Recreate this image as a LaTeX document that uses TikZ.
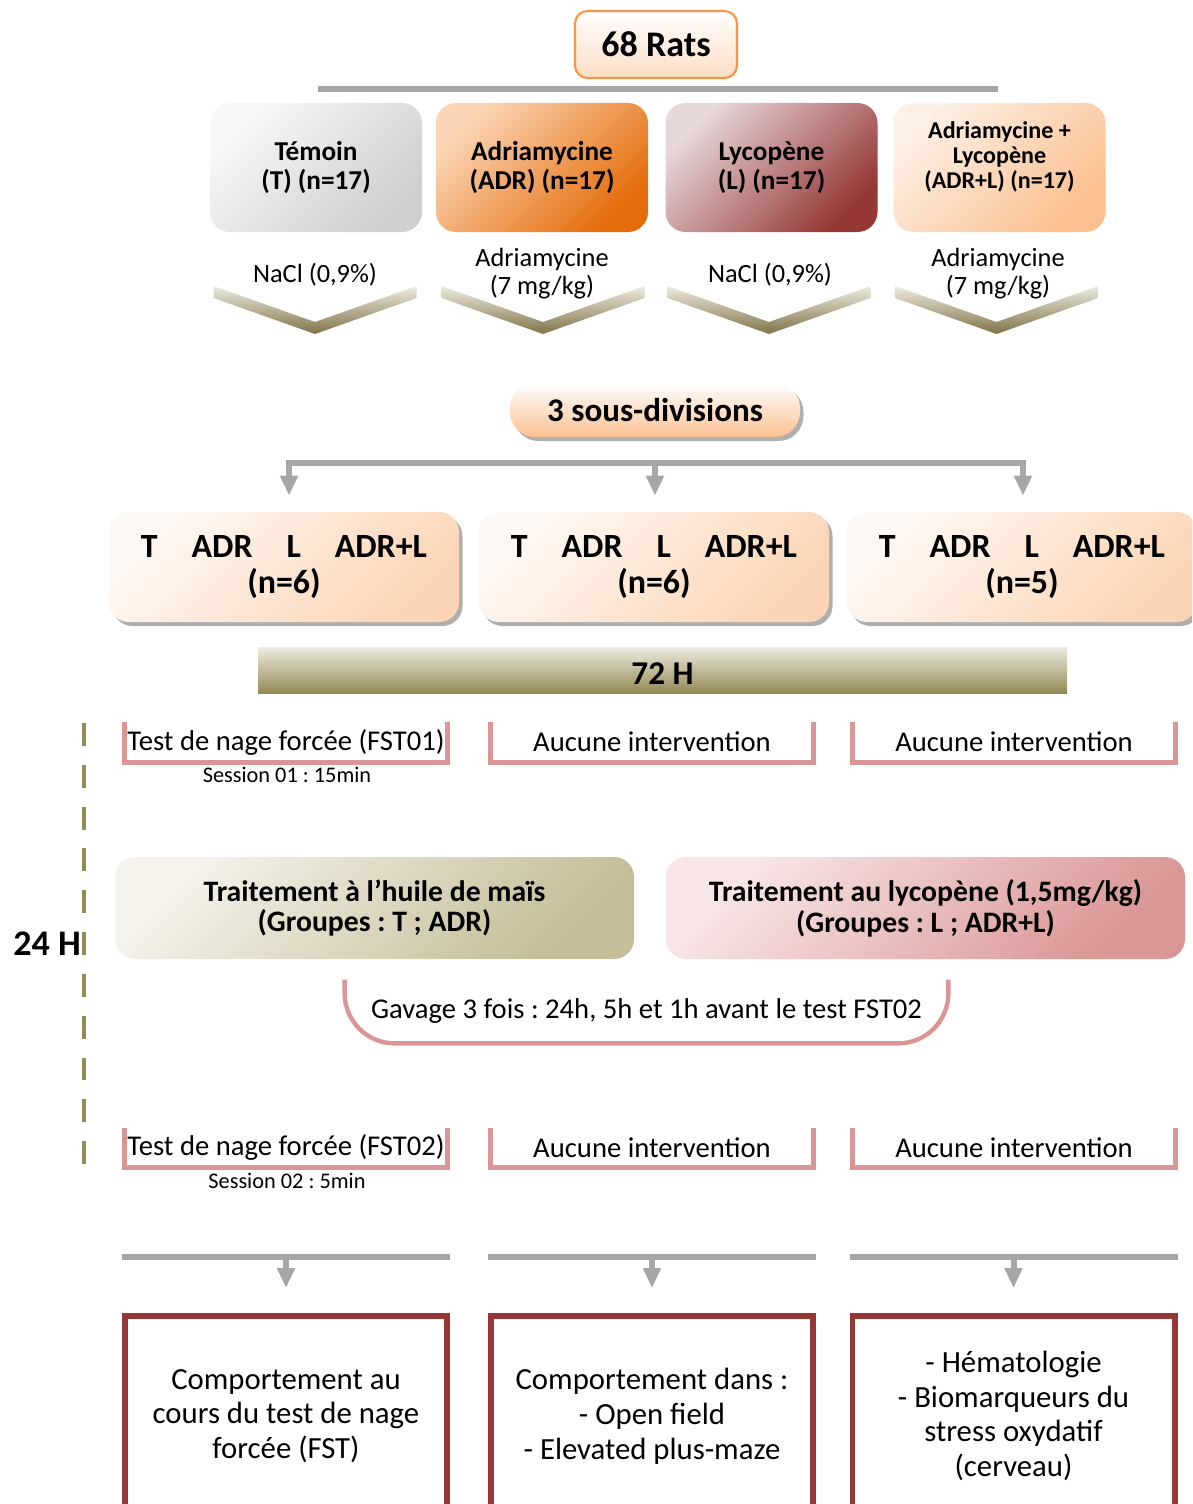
\documentclass[tikz,border=0pt]{standalone}
\usepackage{fontspec}
\setmainfont{Carlito}
\usetikzlibrary{arrows.meta, positioning, shadows}
\frenchspacing
\definecolor{ratorange}{HTML}{F79646}
\definecolor{linegray}{HTML}{A6A6A6}
\definecolor{olive}{HTML}{948A54}
\definecolor{rosebrk}{HTML}{D99694}
\definecolor{darkred}{HTML}{953735}
\definecolor{peachlt}{HTML}{FDE9D9}
\definecolor{peach}{HTML}{FBD5B5}
\definecolor{peachdk}{HTML}{FAC090}
\definecolor{adrorange}{HTML}{E46C0A}
\definecolor{lycolt}{HTML}{E9D8DA}
\definecolor{tanlt}{HTML}{F4F2EA}
\definecolor{tan}{HTML}{C4BD97}
\definecolor{pinklt}{HTML}{F8E6E6}
\definecolor{chevlt}{HTML}{EEECE1}
\definecolor{chevdk}{HTML}{7F7346}
\definecolor{barolive}{HTML}{938953}

\begin{document}
\begin{tikzpicture}[
    rats/.style={rectangle, draw=ratorange, line width=1.2pt, rounded corners=0.25cm,
                 top color=white, bottom color=peach!80, minimum width=3.24cm,
                 minimum height=1.34cm, font=\bfseries\fontsize{20.5}{24}\selectfont},
    diag/.style 2 args={top color=#1, bottom color=#2, shading angle=45},
    group/.style={rectangle, rounded corners=0.4cm, minimum width=4.24cm,
                  minimum height=2.58cm, align=center,
                  font=\bfseries\fontsize{15.5}{16.5}\selectfont},
    dose/.style={align=center, font=\fontsize{15}{16}\selectfont},
    shadowed/.style={drop shadow={shadow xshift=0.07cm, shadow yshift=-0.08cm,
                     fill=gray!70, opacity=0.9}},
    pill/.style={rectangle, rounded corners=0.5cm, minimum width=5.8cm,
                 minimum height=1.08cm, top color=white, bottom color=peachdk,
                 shadowed, font=\bfseries\fontsize{18.8}{22}\selectfont},
    subdiv/.style={rectangle, rounded corners=0.4cm, minimum width=7cm,
                   minimum height=2.2cm, align=center, shadowed,
                   diag={peachlt!30}{peach},
                   font=\bfseries\fontsize{19.3}{20}\selectfont},
    hourbar/.style={rectangle, minimum width=16.18cm, minimum height=0.92cm,
                    top color=chevlt, bottom color=barolive,
                    text height=16.5pt, text depth=0pt,
                    font=\bfseries\fontsize{18.9}{22}\selectfont},
    hour/.style={font=\bfseries\fontsize{20.5}{24}\selectfont},
    slot/.style={rectangle, minimum width=6.44cm, minimum height=0.8cm,
                 inner xsep=0pt, font=\fontsize{16.3}{19}\selectfont},
    brk/.style={draw=rosebrk, line width=2.5pt},
    session/.style={font=\fontsize{12.7}{15}\selectfont},
    treat/.style={rectangle, rounded corners=0.4cm, minimum width=10.38cm,
                  minimum height=2.04cm, align=center,
                  font=\bfseries\fontsize{16.9}{17.6}\selectfont},
    result/.style={rectangle, draw=darkred, line width=3.4pt, minimum width=6.44cm,
                   minimum height=4cm, align=center,
                   font=\fontsize{17.5}{19.8}\selectfont},
    grayline/.style={draw=linegray, line width=3.4pt},
    grayarrow/.style={draw=linegray, line width=3.4pt,
                      -{Triangle[width=0.34cm, length=0.4cm]}},
    timeline/.style={draw=olive, line width=2.8pt, dash pattern=on 13pt off 10.8pt}
]
\useasboundingbox (0,0) rectangle (23.84,-30.08);
\clip (0,0) rectangle (23.84,-30.08);

% Rats
\node[rats] at (13.12,-0.89) (rats) {68 Rats};
\draw[grayline] (6.36,-1.78) -- (19.96,-1.78);

% Groups
\node[group, diag={gray!6}{gray!38}] at (6.32,-3.35) (temoin) {Témoin\\(T) (n=17)};
\node[group, diag={peach}{adrorange}] at (10.84,-3.35) (adr) {Adriamycine\\(ADR) (n=17)};
\node[group, diag={lycolt}{darkred}] at (15.43,-3.35) (lyc) {Lycopène\\(L) (n=17)};
\node[group, diag={peachlt!70}{peachdk}, font=\bfseries\fontsize{13.7}{14}\selectfont]
     at (19.99,-3.35) (adrl) {Adriamycine +\\Lycopène\\(ADR+L) (n=17)\rule[-0.5cm]{0pt}{0pt}};

% Doses
\node[dose] at (6.30,-5.49) (dT) {NaCl (0,9\%)};
\node[dose] at (10.84,-5.47) (dADR) {Adriamycine\\(7 mg/kg)};
\node[dose] at (15.40,-5.49) (dL) {NaCl (0,9\%)};
\node[dose] at (19.96,-5.47) (dADRL) {Adriamycine\\(7 mg/kg)};

% Chevrons
\foreach \x in {6.30,10.86,15.38,19.93}
  \shade[top color=chevlt, bottom color=chevdk]
    (\x-2.03,-5.72) -- (\x,-6.44) -- (\x+2.03,-5.72) -- (\x+2.03,-5.96)
    -- (\x,-6.68) -- (\x-2.03,-5.96) -- cycle;

% Sous-divisions
\node[pill] at (13.10,-8.20) (sousdiv) {3 sous-divisions};
\coordinate (tl) at (5.78,-9.26);
\coordinate (tm) at (13.10,-9.26);
\coordinate (tr) at (20.46,-9.26);
\draw[grayline, line cap=rect] (tl) -- (tr);

\node[subdiv] at (5.68,-11.34) (subA) {T\quad ADR\quad L\quad ADR+L\\(n=6)};
\node[subdiv] at (13.08,-11.34) (subB) {T\quad ADR\quad L\quad ADR+L\\(n=6)};
\node[subdiv] at (20.44,-11.34) (subC) {T\quad ADR\quad L\quad ADR+L\\(n=5)};

\draw[grayarrow, shorten >=0.32cm] (tl) -- (tl |- subA.north);
\draw[grayarrow, shorten >=0.32cm] (tm) -- (tm |- subB.north);
\draw[grayarrow, shorten >=0.32cm] (tr) -- (tr |- subC.north);

% 72 H
\node[hourbar] at (13.25,-13.40) (h72) {72 H};

% Timeline 24 H
\draw[timeline] (1.68,-14.46) -- (1.68,-23.30);
\node[hour, anchor=east] at (1.74,-18.88) (h24) {24 H};

% FST01
\node[slot] at (5.72,-14.84) (fstA) {Test de nage forcée (FST01)};
\node[slot] at (13.04,-14.84) (aucA1) {Aucune intervention};
\node[slot] at (20.28,-14.84) (aucA2) {Aucune intervention};
\foreach \n in {fstA,aucA1,aucA2}
  \draw[brk] (\n.north west) |- (\n.south east) -- (\n.north east);
\node[session] at (5.74,-15.50) (sessA) {Session 01 : 15min};

% Treatments
\node[treat, diag={tanlt}{tan}] at (7.49,-18.16) (huile)
     {Traitement à l'huile de maïs\\(Groupes : T ; ADR)};
\node[treat, diag={pinklt}{rosebrk}] at (18.51,-18.16) (lycotrt)
     {Traitement au lycopène (1,5mg/kg)\\(Groupes : L ; ADR+L)};

% Gavage
\node[slot, minimum width=12.06cm, minimum height=1.26cm] at (12.93,-20.23) (gavage)
     {Gavage 3 fois : 24h, 5h et 1h avant le test FST02};
\draw[brk, rounded corners=1cm] (gavage.north west) |- (gavage.south east) -- (gavage.north east);

% FST02
\node[slot, minimum height=0.78cm] at (5.72,-22.95) (fstB) {Test de nage forcée (FST02)};
\node[slot, minimum height=0.78cm] at (13.04,-22.95) (aucB1) {Aucune intervention};
\node[slot, minimum height=0.78cm] at (20.28,-22.95) (aucB2) {Aucune intervention};
\foreach \n in {fstB,aucB1,aucB2}
  \draw[brk] (\n.north west) |- (\n.south east) -- (\n.north east);
\node[session] at (5.74,-23.62) (sessB) {Session 02 : 5min};

% Results
\node[result] at (5.72,-28.32) (resA) {Comportement au\\cours du test de nage\\forcée (FST)};
\node[result] at (13.04,-28.32) (resB) {Comportement dans :\\- Open field\\- Elevated plus-maze};
\node[result] at (20.27,-28.32) (resC) {- Hématologie\\- Biomarqueurs du\\stress oxydatif\\(cerveau)};

\foreach \n in {resA,resB,resC} {
  \draw[grayline] ([yshift=1.12cm]\n.north west) -- ([yshift=1.12cm]\n.north east);
  \draw[grayarrow, shorten >=0.5cm] ([yshift=1.12cm]\n.north) -- (\n.north);
}

\end{tikzpicture}
\end{document}
